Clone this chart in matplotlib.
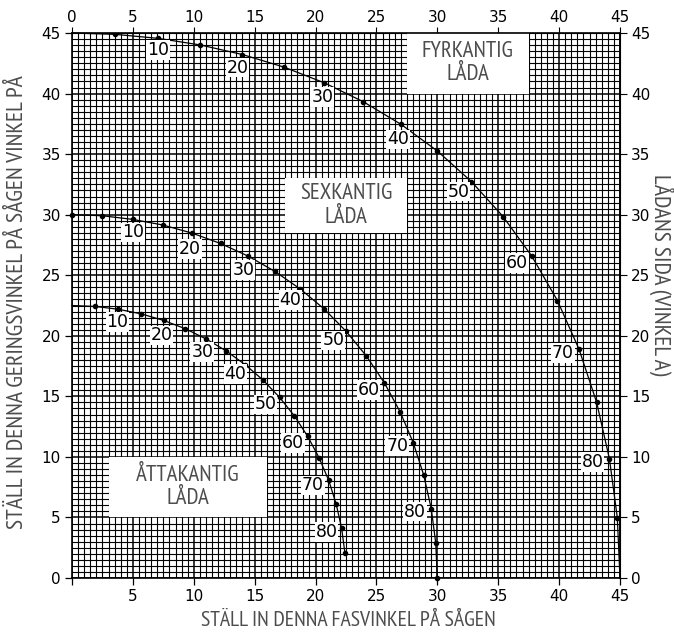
import matplotlib
matplotlib.use("Agg")
import matplotlib.pyplot as plt
from matplotlib.patches import Rectangle
from matplotlib import font_manager
import numpy as np

# ---------------- data ----------------
side_angles = [0, 5, 10, 15, 20, 25, 30, 35, 40, 45, 50, 55, 60, 65, 70, 75, 80, 85, 90]

square_fas = [0.0, 3.53, 7.05, 10.55, 14.00, 17.39, 20.71, 23.93, 27.03, 30.00,
              32.80, 35.40, 37.76, 39.86, 41.64, 43.08, 44.13, 44.78, 45.0]
square_gering = [45.0, 44.89, 44.56, 44.01, 43.22, 42.19, 40.89, 39.32, 37.45, 35.26,
                 32.73, 29.84, 26.57, 22.91, 18.88, 14.51, 9.85, 4.98, 0.0]

hex_fas = [0.0, 2.50, 4.98, 7.44, 9.85, 12.20, 14.48, 16.67, 18.75, 20.71,
           22.52, 24.18, 25.66, 26.95, 28.02, 28.88, 29.50, 29.87, 30.0]
hex_gering = [30.0, 29.91, 29.61, 29.15, 28.48, 27.62, 26.57, 25.31, 23.86, 22.21,
              20.36, 18.32, 16.10, 13.71, 11.17, 8.50, 5.73, 2.88, 0.0]

oct_fas = [0.0, 1.91, 3.81, 5.68, 7.52, 9.31, 11.03, 12.68, 14.24, 15.70,
           17.05, 18.27, 19.35, 20.29, 21.08, 21.69, 22.14, 22.41]
oct_gering = [22.5, 22.42, 22.19, 21.81, 21.27, 20.58, 19.73, 18.74, 17.60, 16.33,
              14.91, 13.37, 11.70, 9.93, 8.06, 6.12, 4.11, 2.07]

labelled_angles = [10, 20, 30, 40, 50, 60, 70, 80]

box_names = ["FYRKANTIG\nLÅDA", "SEXKANTIG\nLÅDA", "ÅTTAKANTIG\nLÅDA"]

x_label = "STÄLL IN DENNA FASVINKEL PÅ SÅGEN"
y_label = "STÄLL IN DENNA GERINGSVINKEL PÅ SÅGEN VINKEL PÅ"
y2_label = "LÅDANS SIDA (VINKEL A)"

tick_values = [0, 5, 10, 15, 20, 25, 30, 35, 40, 45]

# ---------------- styling / layout ----------------
avail = {f.name for f in font_manager.fontManager.ttflist}
narrow = "DejaVu Sans"
for cand in ["Myriad Pro", "PT Sans Narrow", "Open Sans Condensed", "Roboto Condensed",
             "Fira Sans Condensed", "Encode Sans Condensed", "Archivo Narrow",
             "Asap Condensed", "Liberation Sans Narrow", "Liberation Sans"]:
    if cand in avail:
        narrow = cand
        break
gray = "#4d4d4d"

# label offsets in pixels (dx, dy downward) for each labelled point
sq_off = [(0, 12), (-5, 13), (-2, 14), (-3, 15), (-13, 10), (-15, 7), (-16, 4), (-17, 3)]
hx_off = [(0, 13), (-2, 16), (-5, 14), (-10, 11), (-13, 9), (-16, 7), (-16, 3), (-16, 3)]
oc_off = [(-1, 13), (-2, 15), (-4, 13), (-10, 9), (-14, 7), (-15, 7), (-16, 5), (-15, 4)]

fig = plt.figure(figsize=(6.74, 6.34), dpi=100)
ax = fig.add_axes([72 / 674, 56 / 634, 548 / 674, 545 / 634])
ax.set_xlim(0, 45)
ax.set_ylim(0, 45)

# grid
ax.set_xticks(tick_values)
ax.set_yticks(tick_values)
ax.set_xticks(np.arange(0, 45.01, 0.5), minor=True)
ax.set_yticks(np.arange(0, 45.01, 0.5), minor=True)
ax.grid(which="minor", color="black", lw=0.8, zorder=0)
ax.grid(which="major", color="black", lw=1.1, zorder=0)
ax.set_axisbelow(True)
ax.tick_params(which="minor", length=0)
ax.tick_params(which="major", direction="out", length=5, width=0.9,
               labelsize=11, colors="black", pad=3)
ax.set_xticklabels([""] + [str(v) for v in tick_values[1:]])
ax.set_yticklabels([str(v) for v in tick_values])
for sp in ax.spines.values():
    sp.set_linewidth(1.2)

secx = ax.secondary_xaxis("top")
secx.set_xticks(tick_values)
secx.set_xticklabels([str(v) for v in tick_values])
secx.tick_params(direction="out", length=4, labelsize=11, pad=2)
secy = ax.secondary_yaxis("right")
secy.set_yticks(tick_values)
secy.set_yticklabels([str(v) for v in tick_values])
secy.tick_params(direction="out", length=5, labelsize=11, pad=3)

# white label boxes
boxes = [(27.5, 40.0, 10.0, 5.0), (17.5, 28.5, 10.0, 4.5), (3.0, 5.0, 13.0, 5.0)]
for (bx, by, bw, bh), name in zip(boxes, box_names):
    ax.add_patch(Rectangle((bx, by), bw, bh, facecolor="white", edgecolor="none", zorder=2))
    ax.text(bx + bw / 2, by + bh / 2, name, ha="center", va="center", fontsize=16.5,
            family=narrow, weight="light", color=gray, linespacing=1.15, zorder=3)

# curves
ax.plot(square_fas, square_gering, color="black", lw=0.9, zorder=4, clip_on=False)
ax.plot(square_fas[1:-1], square_gering[1:-1], "o", color="black", ms=3, zorder=5)
ax.plot(hex_fas, hex_gering, color="black", lw=0.9, zorder=4, clip_on=False)
ax.plot(hex_fas, hex_gering, "o", color="black", ms=3, zorder=5, clip_on=False)
ax.plot(oct_fas, oct_gering, color="black", lw=0.9, zorder=4, clip_on=False)
ax.plot(oct_fas[1:], oct_gering[1:], "o", color="black", ms=3, zorder=5)

def label_curve(xs, ys, offs):
    for a, (dx, dy) in zip(labelled_angles, offs):
        i = side_angles.index(a)
        ax.annotate(str(a), (xs[i], ys[i]), xytext=(dx * 0.72, -dy * 0.72),
                    textcoords="offset points", ha="center", va="center",
                    fontsize=12.5, color="black", zorder=6,
                    bbox=dict(boxstyle="square,pad=0.05", fc="white", ec="none"))

label_curve(square_fas, square_gering, sq_off)
label_curve(hex_fas, hex_gering, hx_off)
label_curve(oct_fas, oct_gering, oc_off)

# axis titles
fig.text(348 / 674, 1 - 620 / 634, x_label, ha="center", va="center",
         fontsize=15.7, family=narrow, weight="light", color=gray)
fig.text(18 / 674, 1 - 302 / 634, y_label, ha="center", va="center", rotation=90,
         fontsize=17, family=narrow, weight="light", color=gray)
fig.text(662 / 674, 1 - 275 / 634, y2_label, ha="center", va="center", rotation=-90,
         fontsize=17, family=narrow, weight="light", color=gray)

fig.savefig("out.png", dpi=100, facecolor="white")
